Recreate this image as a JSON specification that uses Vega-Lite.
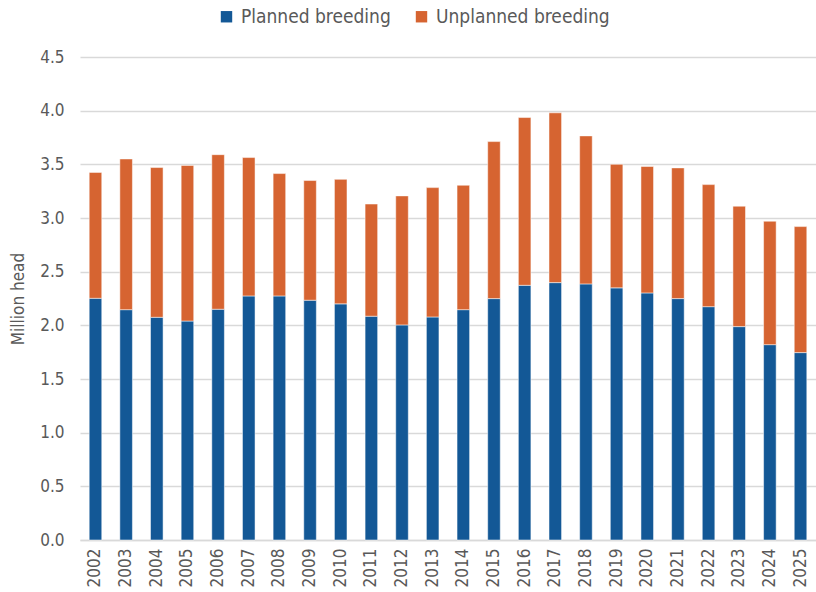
{
  "$schema": "https://vega.github.io/schema/vega-lite/v6.json",
  "width": 736,
  "height": 483,
  "autosize": {"type": "none"},
  "padding": {"left": 80, "top": 57, "right": 0, "bottom": 52},
  "background": "white",
  "config": {
    "view": {"stroke": null},
    "font": "DejaVu Sans Condensed, Roboto Condensed, Roboto",
    "axis": {"labelFont": "DejaVu Sans Condensed, Roboto Condensed, Roboto", "titleFont": "DejaVu Sans Condensed, Roboto Condensed, Roboto", "labelColor": "#595959", "titleColor": "#595959"},
    "legend": {"labelFont": "DejaVu Sans Condensed, Roboto Condensed, Roboto"}
  },
  "data": {
    "values": [
      {"year": "2002", "type": "Planned breeding", "value": 2.252},
      {"year": "2003", "type": "Planned breeding", "value": 2.146},
      {"year": "2004", "type": "Planned breeding", "value": 2.075},
      {"year": "2005", "type": "Planned breeding", "value": 2.04},
      {"year": "2006", "type": "Planned breeding", "value": 2.15},
      {"year": "2007", "type": "Planned breeding", "value": 2.274},
      {"year": "2008", "type": "Planned breeding", "value": 2.274},
      {"year": "2009", "type": "Planned breeding", "value": 2.234},
      {"year": "2010", "type": "Planned breeding", "value": 2.2},
      {"year": "2011", "type": "Planned breeding", "value": 2.085},
      {"year": "2012", "type": "Planned breeding", "value": 2.004},
      {"year": "2013", "type": "Planned breeding", "value": 2.078},
      {"year": "2014", "type": "Planned breeding", "value": 2.146},
      {"year": "2015", "type": "Planned breeding", "value": 2.249},
      {"year": "2016", "type": "Planned breeding", "value": 2.373},
      {"year": "2017", "type": "Planned breeding", "value": 2.398},
      {"year": "2018", "type": "Planned breeding", "value": 2.386},
      {"year": "2019", "type": "Planned breeding", "value": 2.349},
      {"year": "2020", "type": "Planned breeding", "value": 2.302},
      {"year": "2021", "type": "Planned breeding", "value": 2.249},
      {"year": "2022", "type": "Planned breeding", "value": 2.174},
      {"year": "2023", "type": "Planned breeding", "value": 1.988},
      {"year": "2024", "type": "Planned breeding", "value": 1.82},
      {"year": "2025", "type": "Planned breeding", "value": 1.746},
      {"year": "2002", "type": "Unplanned breeding", "value": 1.173},
      {"year": "2003", "type": "Unplanned breeding", "value": 1.404},
      {"year": "2004", "type": "Unplanned breeding", "value": 1.395},
      {"year": "2005", "type": "Unplanned breeding", "value": 1.45},
      {"year": "2006", "type": "Unplanned breeding", "value": 1.44},
      {"year": "2007", "type": "Unplanned breeding", "value": 1.289},
      {"year": "2008", "type": "Unplanned breeding", "value": 1.14},
      {"year": "2009", "type": "Unplanned breeding", "value": 1.115},
      {"year": "2010", "type": "Unplanned breeding", "value": 1.16},
      {"year": "2011", "type": "Unplanned breeding", "value": 1.045},
      {"year": "2012", "type": "Unplanned breeding", "value": 1.202},
      {"year": "2013", "type": "Unplanned breeding", "value": 1.205},
      {"year": "2014", "type": "Unplanned breeding", "value": 1.159},
      {"year": "2015", "type": "Unplanned breeding", "value": 1.463},
      {"year": "2016", "type": "Unplanned breeding", "value": 1.563},
      {"year": "2017", "type": "Unplanned breeding", "value": 1.582},
      {"year": "2018", "type": "Unplanned breeding", "value": 1.379},
      {"year": "2019", "type": "Unplanned breeding", "value": 1.151},
      {"year": "2020", "type": "Unplanned breeding", "value": 1.178},
      {"year": "2021", "type": "Unplanned breeding", "value": 1.218},
      {"year": "2022", "type": "Unplanned breeding", "value": 1.137},
      {"year": "2023", "type": "Unplanned breeding", "value": 1.122},
      {"year": "2024", "type": "Unplanned breeding", "value": 1.15},
      {"year": "2025", "type": "Unplanned breeding", "value": 1.174}
    ]
  },
  "mark": {"type": "bar", "stroke": "white", "strokeWidth": 0.5},
  "encoding": {
    "x": {
      "field": "year",
      "type": "ordinal",
      "scale": {"paddingInner": 0.59, "paddingOuter": 0.3},
      "axis": {"title": null, "labelAngle": -90, "labelFontSize": 17, "labelPadding": 8, "ticks": false, "domain": true, "domainColor": "#d9d9d9", "domainWidth": 1.5, "labelBaseline": "middle", "labelAlign": "right"}
    },
    "y": {
      "field": "value",
      "type": "quantitative",
      "stack": "zero",
      "scale": {"domain": [0, 4.5], "nice": false},
      "axis": {"title": "Million head", "titleFontSize": 17, "titleFontWeight": "normal", "titlePadding": 12, "values": [0, 0.5, 1, 1.5, 2, 2.5, 3, 3.5, 4, 4.5], "format": ".1f", "labelFontSize": 17, "labelPadding": 16, "ticks": false, "domain": false, "gridColor": "#d9d9d9", "gridWidth": 1.5}
    },
    "color": {
      "field": "type",
      "type": "nominal",
      "scale": {"domain": ["Planned breeding", "Unplanned breeding"], "range": ["#135896", "#d66431"]},
      "legend": {"title": null, "orient": "none", "direction": "horizontal", "legendX": 137, "legendY": -50, "symbolType": "square", "symbolSize": 130, "symbolStrokeWidth": 0, "labelFontSize": 19, "labelLimit": 400, "labelColor": "#595959", "columnPadding": 21, "labelOffset": 5}
    },
    "order": {"field": "type", "sort": "ascending"}
  }
}
